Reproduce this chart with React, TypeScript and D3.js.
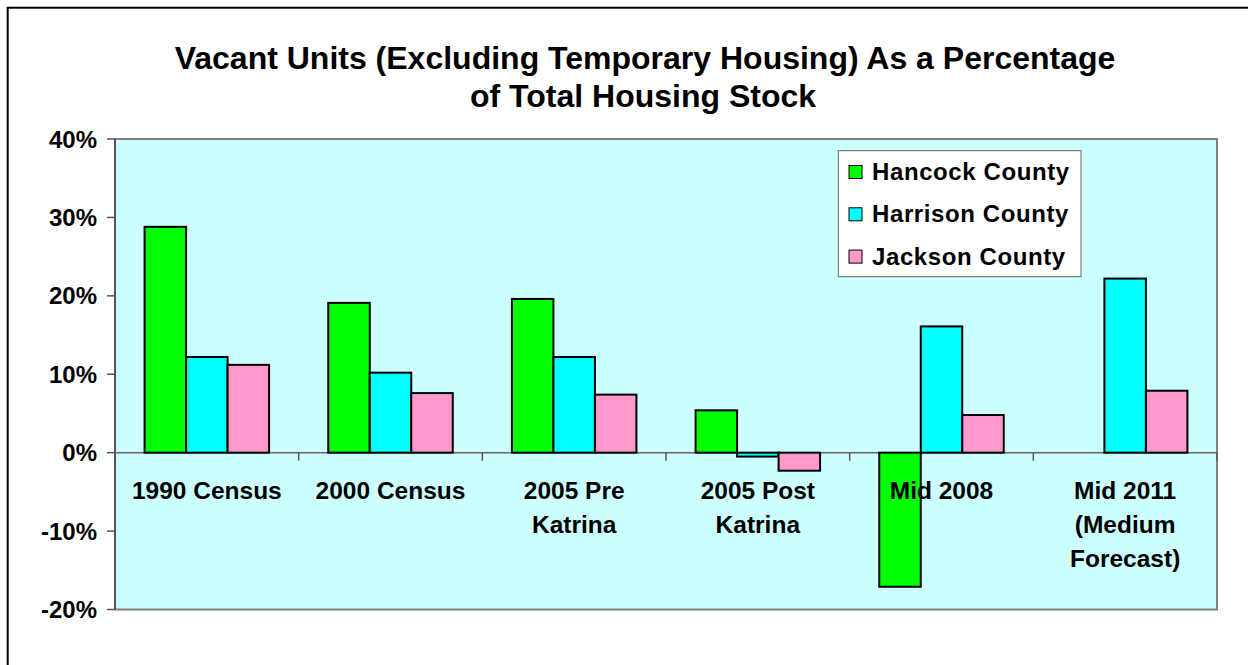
import React from 'react';
import * as d3 from 'd3';

const categories = [
  ['1990 Census'],
  ['2000 Census'],
  ['2005 Pre', 'Katrina'],
  ['2005 Post', 'Katrina'],
  ['Mid 2008'],
  ['Mid 2011', '(Medium', 'Forecast)'],
];
const seriesNames = ['Hancock County', 'Harrison County', 'Jackson County'];
const seriesColors = ['#00FF00', '#00FFFF', '#FF99CC'];

// values in percent
const hancock = [28.8, 19.1, 19.6, 5.4, -17.1, null];
const harrison = [12.2, 10.2, 12.2, -0.5, 16.1, 22.2];
const jackson = [11.2, 7.6, 7.4, -2.3, 4.8, 7.9];
const yTicks = [40, 30, 20, 10, 0, -10, -20];

const W = 1248;
const H = 665;
const plot = { left: 115, right: 1217, top: 139, bottom: 609.5 };
const font = '"Liberation Sans", Arial, sans-serif';

export default function App() {
  const values = [hancock, harrison, jackson];
  const catKeys = categories.map((c) => c.join(' '));

  const x0 = d3.scaleBand().domain(catKeys).range([plot.left, plot.right]).paddingInner(0).paddingOuter(0);
  const x1 = d3
    .scaleBand()
    .domain(seriesNames)
    .range([0, x0.bandwidth()])
    .paddingInner(0)
    .paddingOuter(0.713);
  const y = d3.scaleLinear().domain([-20, 40]).range([plot.bottom, plot.top]);

  const boundaries = catKeys.map((k) => x0(k) as number).concat([plot.right]);

  return (
    <svg width={W} height={H} style={{ position: 'absolute', left: 0, top: 0, background: '#fff' }}>
      {/* outer chart frame */}
      <rect x={7.7} y={7.7} width={W + 50} height={H + 50} fill="#fff" stroke="#000" strokeWidth={2} />

      {/* title */}
      <text x={645} y={69} textAnchor="middle" fontFamily={font} fontWeight="bold" fontSize={32}>
        Vacant Units (Excluding Temporary Housing) As a Percentage
      </text>
      <text x={643} y={107} textAnchor="middle" fontFamily={font} fontWeight="bold" fontSize={32}>
        of Total Housing Stock
      </text>

      {/* plot area */}
      <rect
        x={plot.left}
        y={plot.top}
        width={plot.right - plot.left}
        height={plot.bottom - plot.top}
        fill="#CCFFFF"
        stroke="#808080"
        strokeWidth={2}
      />

      {/* y axis */}
      <line x1={plot.left} x2={plot.left} y1={plot.top} y2={plot.bottom} stroke="#555" strokeWidth={2} />
      {yTicks.map((t) => (
        <g key={t}>
          <line x1={plot.left - 8} x2={plot.left} y1={y(t)} y2={y(t)} stroke="#555" strokeWidth={1.5} />
          <text
            x={97}
            y={y(t) + 8.5}
            textAnchor="end"
            fontFamily={font}
            fontWeight="bold"
            fontSize={24}
          >
            {t + '%'}
          </text>
        </g>
      ))}

      {/* zero line + category ticks */}
      <line x1={plot.left} x2={plot.right} y1={y(0)} y2={y(0)} stroke="#666" strokeWidth={1.5} />
      {boundaries.map((bx, i) => (
        <line key={i} x1={bx} x2={bx} y1={y(0)} y2={y(0) + 8} stroke="#555" strokeWidth={1.5} />
      ))}

      {/* bars */}
      {catKeys.map((k, ci) => (
        <g key={k} transform={`translate(${x0(k)},0)`}>
          {seriesNames.map((s, si) => {
            const v = values[si][ci];
            if (v === null || v === undefined) return null;
            const top = y(Math.max(0, v));
            const bot = y(Math.min(0, v));
            return (
              <rect
                key={s}
                x={x1(s)}
                y={top}
                width={x1.bandwidth()}
                height={bot - top}
                fill={seriesColors[si]}
                stroke="#000"
                strokeWidth={2}
              />
            );
          })}
        </g>
      ))}

      {/* category labels */}
      {categories.map((lines, ci) => (
        <text
          key={ci}
          x={(x0(catKeys[ci]) as number) + x0.bandwidth() / 2}
          textAnchor="middle"
          fontFamily={font}
          fontWeight="bold"
          fontSize={24.5}
        >
          {lines.map((ln, li) => (
            <tspan key={li} x={(x0(catKeys[ci]) as number) + x0.bandwidth() / 2} y={499 + li * 34}>
              {ln}
            </tspan>
          ))}
        </text>
      ))}

      {/* legend */}
      <rect x={838.3} y={150.7} width={242.7} height={126} fill="#fff" stroke="#666" strokeWidth={1} />
      {seriesNames.map((s, i) => {
        const cy = 172 + i * 42.3;
        return (
          <g key={s}>
            <rect x={849} y={cy - 6.5} width={13} height={13} fill={seriesColors[i]} stroke="#000" strokeWidth={1} />
            <text
              x={872}
              y={cy + 8}
              fontFamily={font}
              fontWeight="bold"
              fontSize={24}
              letterSpacing={0.6}
            >
              {s}
            </text>
          </g>
        );
      })}
    </svg>
  );
}
